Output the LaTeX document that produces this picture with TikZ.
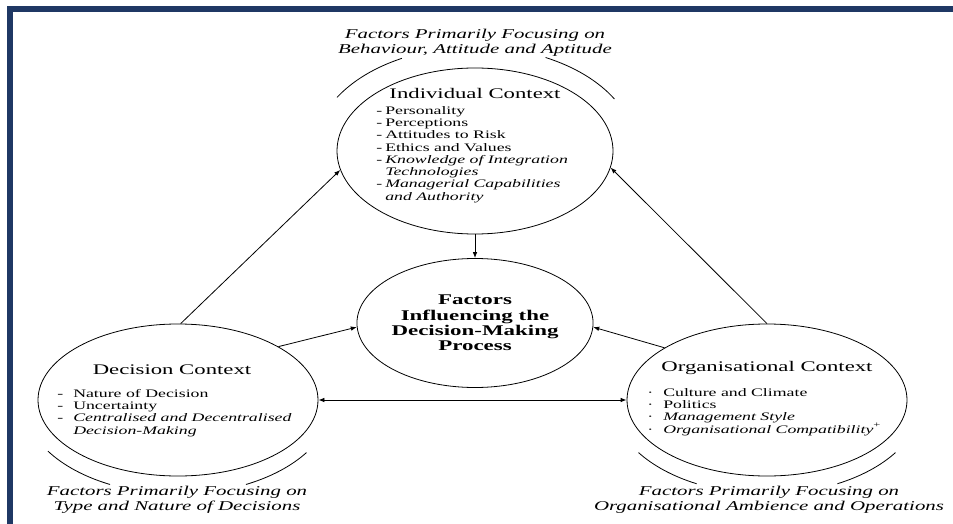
\documentclass[tikz,border=0pt]{standalone}
\usepackage{fontspec}
\setmainfont{Liberation Serif}[FakeStretch=1.55]
\usetikzlibrary{shapes.geometric, arrows.meta}
\definecolor{framenavy}{HTML}{1F3864}
\newcommand{\itm}[2][6.75pt]{\makebox[#1][l]{#2}}
\tikzset{
    ctx/.style={draw, ellipse, line width=0.6pt, inner sep=0pt, minimum width=210pt, minimum height=114pt},
    hub/.style={draw, ellipse, line width=0.6pt, inner sep=0pt, minimum width=175.5pt, minimum height=96.75pt, align=center, font=\fontsize{11.1pt}{11.5pt}\selectfont\bfseries},
    ctxtitle/.style={inner sep=0pt, font=\fontsize{11pt}{13pt}\selectfont},
    items/.style={inner sep=0pt, align=left, anchor=north west, font=\fontsize{8.6pt}{9.2pt}\selectfont},
    note/.style={inner sep=0pt, align=center, font=\fontsize{10.1pt}{11.25pt}\selectfont\itshape},
    outerarc/.style={line width=0.6pt},
    link/.style={line width=0.6pt, ->, >={Latex[length=4.5pt, width=3.4pt]}}
}

\begin{document}
\begin{tikzpicture}[x=0.75pt, y=0.75pt]
    \useasboundingbox (0,0) rectangle (953,-524);
    \fill[framenavy] (7,-6) rectangle (953,-12);
    \fill[framenavy] (7,-6) rectangle (13,-524);

    \node[ctx, minimum width=207pt, minimum height=124.5pt] (ind) at (475,-151) {};
    \node[ctx] (dec) at (178,-400) {};
    \node[ctx] (org) at (767,-400) {};
    \node[hub] (cen) at (475,-323) {Factors\\Influencing the\\Decision-Making\\Process};

    \node[ctxtitle] (indT) at (475,-93) {Individual Context};
    \node[ctxtitle] (decT) at (172,-370) {Decision Context};
    \node[ctxtitle] (orgT) at (767,-368) {Organisational Context};

    \node[items] (indL) at (376,-106) {\itm{-}Personality\\ \itm{-}Perceptions\\ \itm{-}Attitudes to Risk\\ \itm{-}Ethics and Values\\ \itm{-}\textit{Knowledge of Integration}\\ \itm{}\textit{Technologies}\\ \itm{-}\textit{Managerial Capabilities}\\ \itm{}\textit{and Authority}};
    \node[items] (decL) at (57,-389) {\itm[12pt]{-}Nature of Decision\\ \itm[12pt]{-}Uncertainty\\ \itm[12pt]{-}\textit{Centralised and Decentralised}\\ \itm[12pt]{}\textit{Decision-Making}};
    \node[items] (orgL) at (647,-388) {\itm[12pt]{\textperiodcentered}Culture and Climate\\ \itm[12pt]{\textperiodcentered}Politics\\ \itm[12pt]{\textperiodcentered}\textit{Management Style}\\ \itm[12pt]{\textperiodcentered}\textit{Organisational Compatibility}\textsuperscript{+}};

    \node[note] (indN) at (475,-43) {Factors Primarily Focusing on\\Behaviour, Attitude and Aptitude};
    \node[note] (decN) at (177,-500) {Factors Primarily Focusing on\\Type and Nature of Decisions};
    \node[note] (orgN) at (769,-500) {Factors Primarily Focusing on\\Organisational Ambience and Operations};

    \draw[outerarc] (ind.center) ++(117:161 and 104) arc[start angle=117, end angle=149, x radius=161, y radius=104];
    \draw[outerarc] (ind.center) ++(30:161 and 104) arc[start angle=30, end angle=64, x radius=161, y radius=104];
    \draw[outerarc] (dec.center) ++(213:155 and 94) arc[start angle=213, end angle=244, x radius=155, y radius=94];
    \draw[outerarc] (dec.center) ++(296:155 and 94) arc[start angle=296, end angle=326, x radius=155, y radius=94];
    \draw[outerarc] (org.center) ++(214:155 and 94) arc[start angle=214, end angle=243, x radius=155, y radius=94];
    \draw[outerarc] (org.center) ++(297:155 and 94) arc[start angle=297, end angle=326, x radius=155, y radius=94];

    \draw[link] (dec.88) -- (ind.188);
    \draw[link] (org.north) -- (ind.-7);
    \draw[link] (ind.south) -- (cen.north);
    \draw[link] (dec.28) -- (cen.182);
    \draw[link] (org.153) -- (cen.-2);
    \draw[link, <->] (dec.east) -- (org.west);
\end{tikzpicture}
\end{document}
